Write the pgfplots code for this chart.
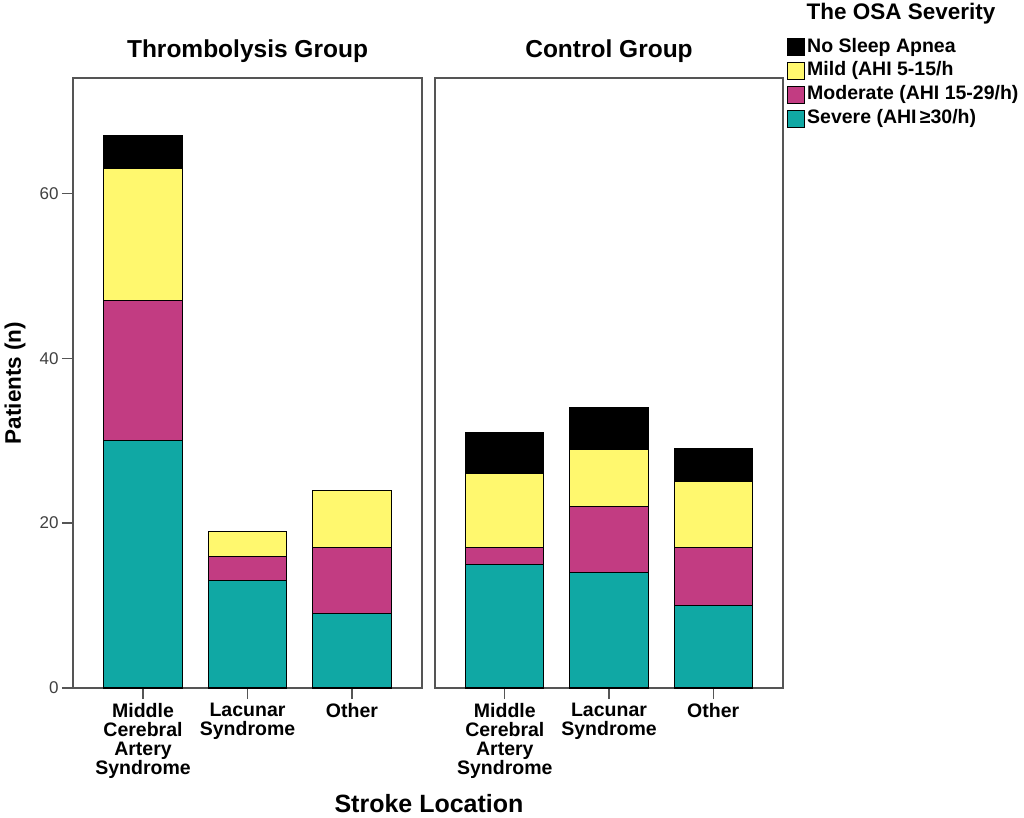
\documentclass[border=0pt]{standalone}
\usepackage{fontspec}
\setmainfont{Liberation Sans}
\usepackage{pgfplots}
\usepackage{pgfplotstable}
\pgfplotsset{compat=1.18}

\definecolor{severe}{RGB}{16,168,164}
\definecolor{moderate}{RGB}{194,60,130}
\definecolor{mild}{RGB}{255,248,110}
\definecolor{axgray}{RGB}{85,85,85}

% x severe moderate mild none
\pgfplotstableread{
x severe moderate mild none
0 30 17 16 4
1 13 3 3 0
2 9 8 7 0
}\thrombo
\pgfplotstableread{
x severe moderate mild none
0 15 2 9 5
1 14 8 7 5
2 10 7 8 4
}\control

\pgfplotsset{
 panel/.style={
  scale only axis, width=349pt, height=610pt,
  xmin=-0.67, xmax=2.67, ymin=0, ymax=74,
  ybar stacked, bar width=0.75,
  xtick={0,1,2},
  xticklabels={{Middle\\Cerebral\\Artery\\Syndrome},{Lacunar\\Syndrome},{Other}},
  xticklabel style={align=center, font=\fontsize{19.5}{19}\selectfont\bfseries, inner sep=0pt, yshift=-4pt},
  xtick pos=bottom, ytick pos=left,
  tick align=outside, major tick length=11pt,
  axis line style={axgray, line width=1.3pt},
  tick style={axgray, line width=1.3pt},
  title style={font=\fontsize{24.5}{25}\selectfont\bfseries, anchor=base, at={(0.5,1)}, yshift=15pt},
  /pgf/number format/assume math mode=true,
  yticklabel style={font=\fontsize{17}{17}\selectfont, text=black!75},
 },
 bars/.style={draw=black, line width=1.1pt},
}

\begin{document}
\begin{tikzpicture}
\useasboundingbox (0,0) rectangle (1024pt,-818pt);

\begin{axis}[panel, at={(73pt,-688pt)}, anchor=south west,
  title={Thrombolysis Group},
  ytick={0,20,40,60}]
\addplot[bars, fill=severe] table[x=x, y=severe] {\thrombo};
\addplot[bars, fill=moderate] table[x=x, y=moderate] {\thrombo};
\addplot[bars, fill=mild] table[x=x, y=mild] {\thrombo};
\addplot[bars, fill=black] table[x=x, y=none] {\thrombo};
\end{axis}

\begin{axis}[panel, at={(435pt,-688pt)}, anchor=south west, width=348pt,
  title={Control Group},
  ytick=\empty,
  reverse legend,
  legend cell align=left,
  legend image code/.code={\draw[#1, line width=1pt] (0pt,-8.5pt) rectangle (17pt,8.5pt);},
  legend style={at={(axis description cs:1.0115,1.0705)}, anchor=north west,
    draw=none, fill=none, inner sep=0pt, row sep=0pt,
    font=\fontsize{19.5}{20}\selectfont\bfseries,
    nodes={inner xsep=2pt, inner ysep=3pt, text height=13.8pt, text depth=4pt}}]
\addplot[bars, fill=severe] table[x=x, y=severe] {\control};
\addplot[bars, fill=moderate] table[x=x, y=moderate] {\control};
\addplot[bars, fill=mild] table[x=x, y=mild] {\control};
\addplot[bars, fill=black] table[x=x, y=none] {\control};
\legend{Severe (AHI\,≥30/h),Moderate (AHI 15-29/h),Mild (AHI 5-15/h,No Sleep Apnea}
\end{axis}

\node[font=\fontsize{22.5}{23}\selectfont\bfseries] at (901pt,-14pt) {The OSA Severity};
\node[font=\fontsize{25}{26}\selectfont\bfseries, inner sep=0pt] at (429pt,-804pt) {Stroke Location};
\node[font=\fontsize{22.5}{23}\selectfont\bfseries, rotate=90] at (15pt,-383pt) {Patients (n)};
\end{tikzpicture}
\end{document}
